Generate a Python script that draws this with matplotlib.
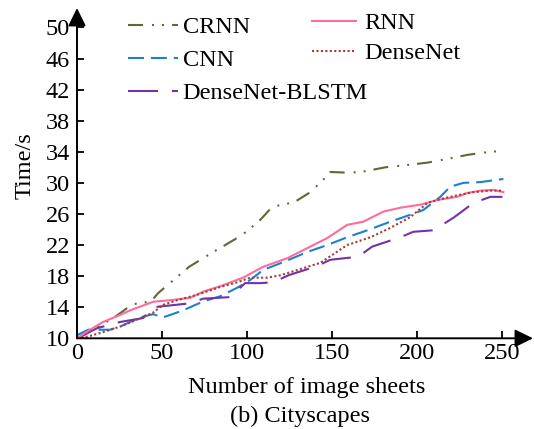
import matplotlib
matplotlib.use("Agg")
import matplotlib.pyplot as plt

plt.rcParams['font.family'] = ['Liberation Serif', 'DejaVu Serif']
plt.rcParams['lines.scale_dashes'] = False

# ---- data ----
crnn_x = [0, 21.2, 27.1, 32.4, 38.2, 44.1, 47.6, 65.9, 80, 87.1, 97.1, 107.1, 114.7,
          120.6, 127.6, 137.1, 144.7, 148.8, 160.6, 169.4, 181.2, 194.1, 205.9, 218.2,
          229.4, 242.9, 250.6]
crnn_y = [9.9, 12.6, 13.5, 14.4, 14.5, 14.9, 15.8, 19.2, 21.1, 22.0, 23.3, 25.1, 26.9,
          27.2, 27.5, 28.8, 30.4, 31.4, 31.3, 31.5, 32.0, 32.3, 32.6, 33.1, 33.6, 34.0, 34.1]

rnn_x = [0, 7.6, 15.3, 25.3, 31.2, 44.7, 54.7, 66.5, 74.1, 84.1, 97.6, 109.4, 123.5,
         135.3, 147.1, 158.8, 168.2, 180, 190, 201.8, 211.8, 223.5, 229.4, 237, 244.7, 250.6]
rnn_y = [10.0, 11.1, 12.1, 13.0, 13.6, 14.7, 14.9, 15.2, 16.0, 16.7, 17.8, 19.2, 20.3,
         21.6, 22.9, 24.6, 25.0, 26.3, 26.8, 27.2, 27.8, 28.2, 28.7, 29.0, 29.1, 28.8]

cnn_x = [0, 6.5, 19.4, 25.3, 37.1, 44.7, 50.6, 54.7, 62.4, 70.6, 76.5, 84.1, 94.1, 101.8,
         109.4, 121.2, 135.3, 147.1, 158.8, 170.6, 184.1, 195.9, 203.5, 213.5, 219.4,
         227.1, 237.1, 250.6]
cnn_y = [10.4, 11.1, 11.1, 11.5, 12.7, 13.1, 12.7, 13.0, 13.6, 14.4, 14.9, 15.4, 16.5,
         17.5, 18.8, 19.8, 21.1, 22.0, 23.0, 23.9, 25.0, 25.9, 26.5, 28.2, 29.5, 30.0,
         30.1, 30.5]

dense_x = [0, 7.6, 15.3, 25.3, 35.3, 44.7, 50.6, 58.8, 70.6, 84.1, 94.1, 101.8, 111.8,
           119.4, 131.2, 142.9, 158.8, 172.4, 184.1, 195.9, 205.9, 213.5, 223.5, 232.9,
           242.9, 250.6]
dense_y = [9.9, 10.3, 10.8, 11.5, 12.4, 13.3, 14.3, 14.9, 15.6, 16.6, 17.2, 17.8, 17.8,
           18.1, 18.9, 19.7, 22.0, 23.0, 24.2, 25.6, 27.4, 27.9, 28.4, 28.8, 29.0, 29.0]

blstm_x = [0, 11.8, 25.3, 38.8, 44.7, 66.5, 74.1, 90, 98.8, 107.6, 115.3, 124.1, 141.2,
           148.8, 165.3, 173.5, 190, 197.6, 209.4, 221.2, 232.9, 242.9, 250]
blstm_y = [10.0, 11.3, 12.1, 12.6, 14.0, 14.5, 15.1, 15.3, 17.1, 17.1, 17.2, 18.1, 19.3,
           20.1, 20.5, 21.8, 23.0, 23.7, 23.9, 25.5, 27.4, 28.2, 28.2]

x_ticks = [0, 50, 100, 150, 200, 250]
y_ticks = [10, 14, 18, 22, 26, 30, 34, 38, 42, 46, 50]

FS = 17.5
W, H = 534, 429
fig = plt.figure(figsize=(W / 100, H / 100), dpi=100)
ax = fig.add_axes([77 / W, 1 - 338.3 / H, (533 - 77) / W, (338.3 - 8) / H])

lw = 1.5
l_crnn, = ax.plot(crnn_x, crnn_y, color='#5b6b35', lw=lw,
                  dashes=(10.8, 6.5, 1.4, 5.8, 1.4, 5.8), label='CRNN')
l_cnn, = ax.plot(cnn_x, cnn_y, color='#1f7fcf', lw=lw, dashes=(11.5, 5), label='CNN')
l_blstm, = ax.plot(blstm_x, blstm_y, color='#7232a8', lw=lw, dashes=(21.6, 10),
                   label='DenseNet-BLSTM')
l_rnn, = ax.plot(rnn_x, rnn_y, color='#ff6b9a', lw=lw, label='RNN')
l_dense, = ax.plot(dense_x, dense_y, color='#a33c35', lw=lw, dashes=(1.5, 1.7),
                   label='DenseNet')

ax.set_xlim(0, 268)
ax.set_ylim(10, 52.5)
ax.set_xticks(x_ticks)
ax.set_yticks(y_ticks)
for s in ax.spines.values():
    s.set_visible(False)
ax.tick_params(direction='in', length=5, width=1.3, labelsize=FS)
ax.tick_params(axis='x', pad=3.5)
ax.tick_params(axis='y', pad=5)

arrow = dict(arrowstyle='-|>,head_length=0.55,head_width=0.27', lw=1.4, color='black',
             mutation_scale=20, shrinkA=0, shrinkB=0)
ax.annotate('', xy=(1, 0), xytext=(0, 0), xycoords='axes fraction', arrowprops=arrow,
            annotation_clip=False)
ax.annotate('', xy=(0, 1), xytext=(0, 0), xycoords='axes fraction', arrowprops=arrow,
            annotation_clip=False)

fig.text(25 / W, 1 - 166 / H, 'Time/s', rotation=90, ha='center', va='center', fontsize=FS)
fig.text(307 / W, 1 - 387 / H, 'Number of image sheets', ha='center', va='center', fontsize=FS)
fig.text(300 / W, 1 - 416 / H, '(b) Cityscapes', ha='center', va='center', fontsize=FS)

leg1 = fig.legend(handles=[l_crnn, l_cnn, l_blstm], loc='upper left',
                  bbox_to_anchor=(128 / W, 1 - 16 / H), frameon=False, fontsize=FS,
                  borderpad=0, borderaxespad=0, handlelength=2.05, handletextpad=0.2,
                  labelspacing=0.46)
leg2 = fig.legend(handles=[l_rnn, l_dense], loc='upper left',
                  bbox_to_anchor=(312 / W, 1 - 12 / H), frameon=False, fontsize=FS,
                  borderpad=0, borderaxespad=0, handlelength=1.8, handletextpad=0.35,
                  labelspacing=0.34)

fig.savefig('out.png', dpi=100)
